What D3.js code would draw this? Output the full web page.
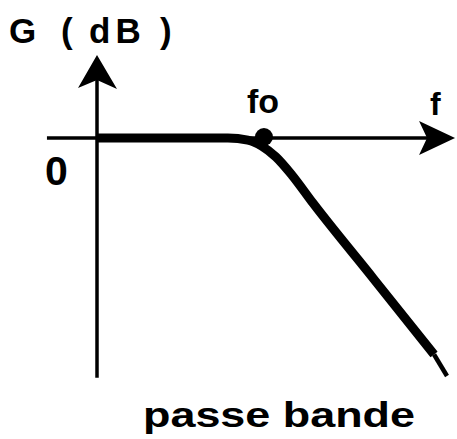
<!DOCTYPE html>
<html>
<head>
<meta charset="utf-8">
<script src="https://cdn.jsdelivr.net/npm/d3@7"></script>
<style>
  html, body { margin: 0; padding: 0; background: #fff; }
  svg { display: block; }
  text { font-family: "Liberation Sans", Arial, sans-serif; font-weight: bold; fill: #000; }
</style>
</head>
<body>
<svg id="chart" width="457" height="439"></svg>
<script>
// ---- data (abstract units: frequency axis 0..10, gain axis 0..-7) ----
const curveX = [0, 3.74, 4.31, 4.71, 5.11, 5.57, 6.17, 7.9, 9.63];
const curveG = [0, 0, -0.06, -0.23, -0.54, -1.06, -1.86, -4.02, -6.185];
const tailX = [9.63, 10.0];
const tailG = [-6.185, -6.8];
const foX = [4.77];
const foG = [0];
const yLabelParts = ["G ", "( ", "dB ", ")"];
const xLabel = "f";
const foLabel = "fo";
const zeroLabel = "0";
const caption = "passe bande";

// ---- layout ----
const svg = d3.select("#chart");
const x = d3.scaleLinear().domain([0, 10]).range([97, 447]);
const y = d3.scaleLinear().domain([0, -7]).range([138, 383]);

const ink = "#000";

// horizontal axis
svg.append("line")
  .attr("x1", x(-1.43)).attr("x2", x(9.6))
  .attr("y1", y(0)).attr("y2", y(0))
  .attr("stroke", ink).attr("stroke-width", 3.5);
// x arrow head
const xt = x(10.23), yt = y(0);
svg.append("path")
  .attr("d", `M${xt},${yt} L${xt-36},${yt-17} L${xt-28},${yt} L${xt-36},${yt+17} Z`)
  .attr("fill", ink);

// vertical axis
svg.append("line")
  .attr("x1", x(0)).attr("x2", x(0))
  .attr("y1", y(-6.85)).attr("y2", y(2.0))
  .attr("stroke", ink).attr("stroke-width", 3.5);
// y arrow head
const ax = x(0), ay = y(2.37);
svg.append("path")
  .attr("d", `M${ax},${ay} L${ax+20},${ay+34} L${ax},${ay+25} L${ax-19},${ay+33} Z`)
  .attr("fill", ink);

// response curve
const pts = curveX.map((v, i) => [v, curveG[i]]);
const line = d3.line().x(d => x(d[0])).y(d => y(d[1])).curve(d3.curveMonotoneX);
svg.append("path")
  .attr("d", line(pts))
  .attr("fill", "none").attr("stroke", ink)
  .attr("stroke-width", 9).attr("stroke-linejoin", "round");

const tail = tailX.map((v, i) => [v, tailG[i]]);
svg.append("path")
  .attr("d", d3.line().x(d => x(d[0])).y(d => y(d[1]))(tail))
  .attr("fill", "none").attr("stroke", ink).attr("stroke-width", 4.5);

// fo point
svg.selectAll("circle.fo").data(foX.map((v, i) => [v, foG[i]])).enter()
  .append("circle").attr("class", "fo")
  .attr("cx", d => x(d[0])).attr("cy", d => y(d[1]) - 1)
  .attr("r", 9).attr("fill", ink);

// labels
const yl = svg.append("text").attr("y", 43).attr("font-size", 35);
const partX = [9, 61, 89, 160];
yl.selectAll("tspan").data(yLabelParts).enter().append("tspan")
  .attr("x", (d, i) => partX[i])
  .attr("letter-spacing", (d, i) => i === 2 ? 5 : 0)
  .text(d => d);

svg.append("text").attr("x", x(foX[0]) - 17).attr("y", 113)
  .attr("font-size", 34).text(foLabel);

svg.append("text").attr("x", 430).attr("y", 115)
  .attr("font-size", 32).text(xLabel);

svg.append("text").attr("x", 45).attr("y", 185)
  .attr("font-size", 41).text(zeroLabel);

svg.append("text").attr("x", 143).attr("y", 427)
  .attr("font-size", 35).attr("textLength", 272).attr("lengthAdjust", "spacingAndGlyphs")
  .text(caption);
</script>
</body>
</html>
